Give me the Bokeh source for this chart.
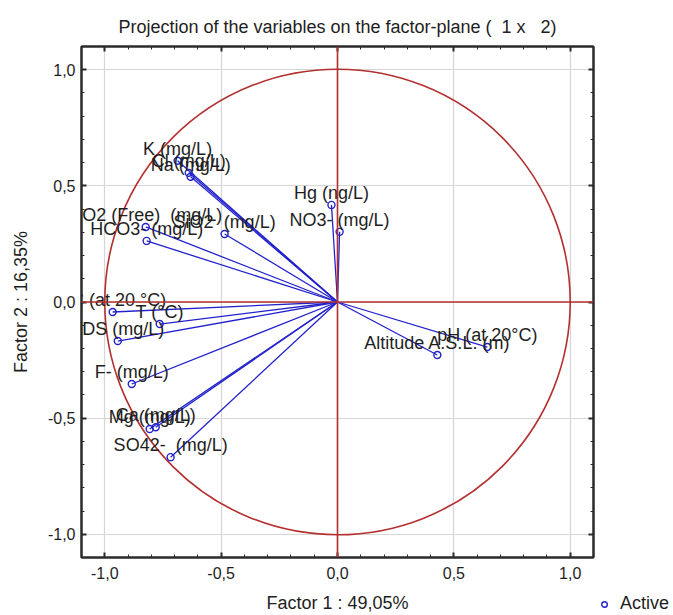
from bokeh.plotting import figure
from bokeh.layouts import row, column
from bokeh.models import (Range1d, LinearAxis, SingleIntervalTicker, Span, Legend,
                          LegendItem, CustomJSTickFormatter, ColumnDataSource)
from bokeh.core.properties import value
from bokeh.embed import file_html
from bokeh.resources import INLINE

NB = "\u00a0"

# ---- data (factor loadings) ----
variables = ["K (mg/L)", "Cl (mg/L)", "Na (mg/L)", "Hg (ng/L)", "NO3- (mg/L)",
             "SiO2" + NB + NB + "(mg/L)", "CO2 (Free)" + NB + NB + "(mg/L)",
             "HCO3- (mg/L)", "EC (at 20 °C)", "T (°C)", "TDS (mg/L)", "F- (mg/L)",
             "Mg (mg/L)", "Ca (mg/L)", "SO42-" + NB + NB + "(mg/L)", "pH (at 20°C)",
             "Altitude A.S.L. (m)"]
factor1 = [-0.687, -0.639, -0.631, -0.026, 0.009, -0.485, -0.824, -0.820, -0.966,
           -0.764, -0.944, -0.884, -0.807, -0.781, -0.717, 0.644, 0.429]
factor2 = [0.608, 0.556, 0.539, 0.418, 0.302, 0.293, 0.323, 0.263, -0.043,
           -0.095, -0.168, -0.353, -0.547, -0.539, -0.668, -0.194, -0.228]
legend_label = "Active"

FONT = "Liberation Sans"
TXT = "#1e1e1e"
RED = "#b43030"
BLUE = "#2222cc"
FRAME = "#2a2a2a"

src = ColumnDataSource(dict(x=factor1, y=factor2, name=variables,
                            x0=[0.0] * len(factor1), y0=[0.0] * len(factor1)))

p = figure(width=596, height=615, output_backend="svg", toolbar_location=None,
           x_range=Range1d(-1.1, 1.1), y_range=Range1d(-1.1, 1.1),
           min_border_left=81, min_border_right=3, min_border_top=46,
           min_border_bottom=58)
p.background_fill_color = "white"
p.border_fill_color = "white"
p.outline_line_color = FRAME
p.outline_line_width = 2

p.title.text = ("Projection of the variables on the factor-plane (" + NB + NB + "1 x"
                + NB + NB + NB + "2)")
p.title.align = "center"
p.title.text_font = FONT
p.title.text_font_size = "18px"
p.title.text_font_style = "normal"
p.title.text_color = TXT
p.title.standoff = 19

fmt = CustomJSTickFormatter(code="return tick.toFixed(1).replace('.', ',');")
blank = CustomJSTickFormatter(code="return '';")

def style_axis(ax, labels=True):
    ax.ticker = SingleIntervalTicker(interval=0.5, num_minor_ticks=5)
    ax.formatter = fmt if labels else blank
    ax.axis_line_color = FRAME
    ax.axis_line_width = 2
    ax.major_tick_line_color = FRAME
    ax.minor_tick_line_color = FRAME
    ax.major_tick_line_width = 2
    ax.minor_tick_line_width = 1
    ax.major_tick_in = 5
    ax.major_tick_out = 0
    ax.minor_tick_in = 3
    ax.minor_tick_out = 0
    ax.major_label_text_font = FONT
    ax.major_label_text_font_size = "16px" if labels else "1px"
    ax.major_label_text_color = TXT
    ax.major_label_standoff = 6 if labels else 0
    ax.axis_label_text_font = FONT
    ax.axis_label_text_font_size = "18px"
    ax.axis_label_text_font_style = "normal"
    ax.axis_label_text_color = TXT

style_axis(p.xaxis[0])
style_axis(p.yaxis[0])
p.xaxis[0].axis_label = "Factor 1 : 49,05%"
p.yaxis[0].axis_label = "Factor 2 : 16,35%"
p.xaxis[0].major_label_standoff = 9
p.xaxis[0].axis_label_standoff = 11
p.yaxis[0].axis_label_standoff = 14

top_ax = LinearAxis()
right_ax = LinearAxis()
style_axis(top_ax, labels=False)
style_axis(right_ax, labels=False)
p.add_layout(top_ax, "above")
p.add_layout(right_ax, "right")

p.xgrid.ticker = SingleIntervalTicker(interval=0.5)
p.ygrid.ticker = SingleIntervalTicker(interval=0.5)
p.grid.grid_line_color = "#d6d6d6"
p.grid.grid_line_width = 1.2

# unit circle and zero axes
p.circle(x=0, y=0, radius=1.0, fill_color=None, line_color=RED, line_width=1.6)
p.add_layout(Span(location=0, dimension="width", line_color=RED, line_width=1.6))
p.add_layout(Span(location=0, dimension="height", line_color=RED, line_width=1.6))

# vectors
p.segment(x0="x0", y0="y0", x1="x", y1="y", source=src, line_color=BLUE, line_width=1.3)
p.scatter(x="x", y="y", source=src, marker="circle", size=7, fill_color=None,
          line_color=BLUE, line_width=1.4)
p.text(x="x", y="y", text="name", source=src, text_font=value(FONT),
       text_font_size="18px", text_color=TXT, text_align="center",
       text_baseline="bottom", y_offset=-2)

# legend strip to the right of the plot (its view range shows none of the points)
lf = figure(width=77, height=615, output_backend="svg", toolbar_location=None,
            x_range=Range1d(10, 11), y_range=Range1d(10, 11),
            x_axis_location=None, y_axis_location=None,
            min_border=0, min_border_left=0, min_border_right=0,
            min_border_top=0, min_border_bottom=0)
lf.outline_line_color = None
lf.background_fill_color = "white"
lf.border_fill_color = "white"
lf.grid.visible = False
proxy = lf.scatter(x="x", y="y", source=src, marker="circle", size=7,
                   fill_color=None, line_color=BLUE, line_width=1.4)
legend = Legend(items=[LegendItem(label=legend_label, renderers=[proxy])],
                location=(1, 1), orientation="horizontal",
                label_text_font=FONT, label_text_font_size="18px",
                label_text_color=TXT, border_line_color=None,
                background_fill_alpha=0, padding=0, margin=0,
                glyph_width=14, label_standoff=9)
lf.add_layout(legend, "center")

layout = row(p, column(lf, spacing=0), spacing=0)
open("out.html", "w").write(file_html(layout, INLINE))
